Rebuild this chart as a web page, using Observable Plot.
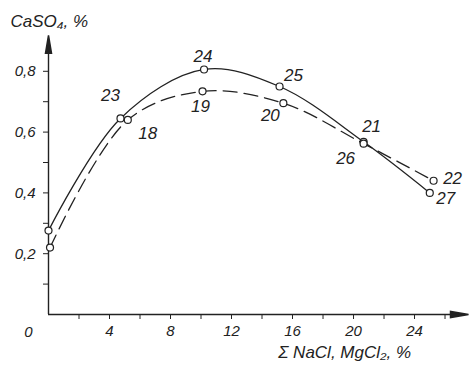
<!DOCTYPE html>
<html>
<head>
<meta charset="utf-8">
<script src="https://cdn.jsdelivr.net/npm/d3@7"></script>
<script src="https://cdn.jsdelivr.net/npm/@observablehq/plot@0.6"></script>
<style>
  html, body { margin: 0; padding: 0; background: #fff; }
</style>
</head>
<body>
<div id="chart"></div>
<script>
// ---- data ----
const solidX = [0.0, 4.72, 10.2, 15.15, 20.66, 25.0];
const solidY = [0.276, 0.645, 0.806, 0.75, 0.568, 0.40];
const solidIds = ["", "23", "24", "25", "21", "27"];

const dashedX = [0.1, 5.2, 10.1, 15.4, 20.66, 25.25];
const dashedY = [0.22, 0.64, 0.734, 0.695, 0.562, 0.44];
const dashedIds = ["", "18", "19", "20", "26", "22"];

const xTickValues = [2, 4, 6, 8, 10, 12, 14, 16, 18, 20, 22, 24, 26];
const xTickLabels = ["", "4", "", "8", "", "12", "", "16", "", "20", "", "24", ""];
const yTickValues = [0.1, 0.2, 0.3, 0.4, 0.5, 0.6, 0.7, 0.8];
const yTickLabels = ["", "0,2", "", "0,4", "", "0,6", "", "0,8"];

const yTitle = "CaSO\u2084, %";
const xTitle = "\u03A3 NaCl, MgCl\u2082, %";
const originLabel = "0";

// ---- build tables ----
const solid = solidX.map((x, i) => ({x, y: solidY[i], id: solidIds[i]}));
const dashed = dashedX.map((x, i) => ({x, y: dashedY[i], id: dashedIds[i]}));

// label placement (layout, in px)
const labelOffset = {
  "23": [-10, -23], "18": [20, 14], "24": [-1, -13], "19": [-2, 15],
  "25": [14, -11], "20": [-13, 12], "21": [8, -15], "26": [-18, 15],
  "22": [19, -2], "27": [16, 6]
};
const labelled = [...solid, ...dashed].filter(d => d.id !== "");

const ink = "#222";
const arrowHead = {
  draw(ctx) {
    ctx.moveTo(0, -18);
    ctx.lineTo(3, 0);
    ctx.lineTo(-3, 0);
    ctx.closePath();
  }
};

const labelMarks = labelled.map(d => Plot.text([d], {
  x: "x", y: "y", text: "id",
  dx: labelOffset[d.id][0], dy: labelOffset[d.id][1],
  fontSize: 17, fill: ink
}));

const chart = Plot.plot({
  width: 470,
  height: 368,
  marginLeft: 48,
  marginRight: 2.6,
  marginTop: 10,
  marginBottom: 54,
  x: {domain: [0, 27.5]},
  y: {domain: [0, 1]},
  style: {fontFamily: "Liberation Sans, sans-serif", fontStyle: "italic", fontSize: "15px", color: ink, background: "#fff"},
  marks: [
    // axes lines
    Plot.ruleY([0], {x1: 0, x2: 26.5, stroke: ink, strokeWidth: 1.4}),
    Plot.ruleX([0], {y1: 0, y2: 0.87, stroke: ink, strokeWidth: 1.4}),
    Plot.dot([{x: 26.36, y: 0}], {x: "x", y: "y", symbol: arrowHead, rotate: 90, fill: ink, stroke: ink, r: 3}),
    Plot.dot([{x: 0, y: 0.859}], {x: "x", y: "y", symbol: arrowHead, fill: ink, stroke: ink, r: 3}),
    Plot.axisX({ticks: xTickValues, tickSize: 5, tickPadding: 6, stroke: ink, label: null,
      tickFormat: d => xTickLabels[xTickValues.indexOf(d)], fontSize: 15}),
    Plot.axisY({ticks: yTickValues, tickSize: 5, tickPadding: 8, stroke: ink, label: null,
      tickFormat: d => yTickLabels[yTickValues.indexOf(d)], fontSize: 15}),
    Plot.text([originLabel], {x: 0, y: 0, text: d => d, dx: -20, dy: 18, fontSize: 15, fill: ink}),
    // curves
    Plot.line(solid, {x: "x", y: "y", curve: "catmull-rom", stroke: ink, strokeWidth: 1.3}),
    Plot.line(dashed, {x: "x", y: "y", curve: "catmull-rom", stroke: ink, strokeWidth: 1.3, strokeDasharray: "14,7"}),
    Plot.dot(solid, {x: "x", y: "y", r: 3.5, fill: "#fff", stroke: ink, strokeWidth: 1.2}),
    Plot.dot(dashed, {x: "x", y: "y", r: 3.5, fill: "#fff", stroke: ink, strokeWidth: 1.2}),
    ...labelMarks,
    // titles
    Plot.text([yTitle], {frameAnchor: "top-left", text: d => d, dx: -38, dy: 4, textAnchor: "start", fontSize: 17, fill: ink}),
    Plot.text([xTitle], {frameAnchor: "bottom", text: d => d, dx: 20, dy: 43, textAnchor: "start", fontSize: 17, fill: ink})
  ]
});
document.getElementById("chart").appendChild(chart);
</script>
</body>
</html>
